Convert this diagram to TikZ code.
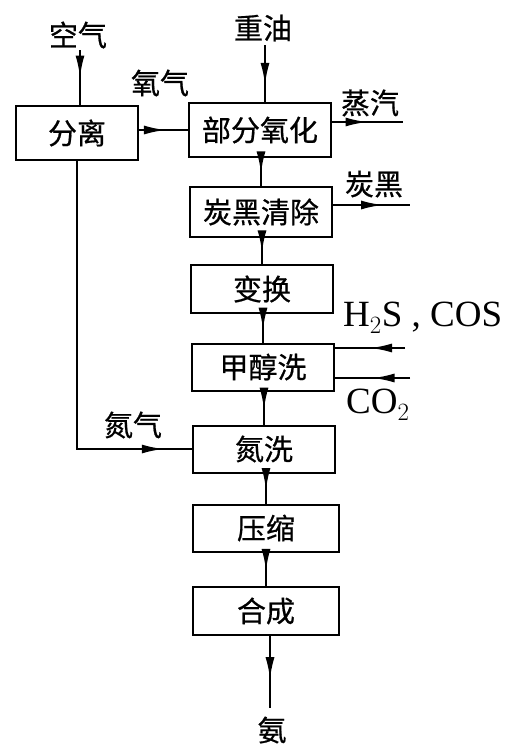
\documentclass[tikz,border=0pt]{standalone}
\usepackage{fontspec}
\setmainfont{Liberation Serif}
\newfontfamily\cjk[FakeBold=0.6]{Noto Sans CJK SC}
\usetikzlibrary{arrows.meta,decorations.markings}
\tikzset{
  x=1pt,y=-1pt,
  proc/.style={draw,line width=2pt,minimum width=142pt,minimum height=49pt,inner sep=0pt,font=\cjk\fontsize{29}{29}\selectfont},
  lbl/.style={inner sep=0pt,font=\cjk\fontsize{29}{29}\selectfont},
  latin/.style={inner sep=0pt,font=\fontsize{37}{37}\selectfont},
  flow/.style={line width=2.2pt,postaction={decorate},decoration={markings,mark=at position #1 with {\arrow{Latex[length=22pt,width=9pt]}}}},
  flow/.default=0.55
}
\begin{document}
\begin{tikzpicture}
\useasboundingbox (0,0) rectangle (514,748);
% boxes
\node[proc,minimum width=122pt,minimum height=54pt] (fl) at (77,133) {分离};
\node[proc,minimum height=54pt] (bf) at (260,130) {部分氧化};
\node[proc,minimum height=50pt] (th) at (261,212) {炭黑清除};
\node[proc,minimum height=48pt] (bh) at (262,289) {变换};
\node[proc,minimum height=47pt] (jc) at (263,367) {甲醇洗};
\node[proc,minimum height=47pt] (dx) at (264,449) {氮洗};
\node[proc,minimum height=47pt,minimum width=146pt] (ys) at (266,528) {压缩};
\node[proc,minimum height=48pt,minimum width=146pt] (hc) at (266,611) {合成};
% labels
\node[lbl] (kq) at (78,35) {空气};
\node[lbl] (zy) at (263,28) {重油};
\node[lbl] (yq) at (160,83) {氧气};
\node[lbl] (zq) at (370,103) {蒸汽};
\node[lbl] (tb) at (374,184) {炭黑};
\node[lbl] (dq) at (133,425) {氮气};
\node[lbl] (an) at (272,730) {氨};
\node[latin,anchor=west] (hs) at (343,318) {H$_2$S , COS};
\node[latin,anchor=west] (co) at (346,405) {CO$_2$};
% free ends
\coordinate (kqe) at (80,50);
\coordinate (zye) at (265,45);
\coordinate (zqe) at (403,122);
\coordinate (tbe) at (410,205);
\coordinate (hse) at (405,348);
\coordinate (coe) at (410,378);
\coordinate (ane) at (270,708);
% connectors
\draw[flow=0.5] (kqe) -- (kqe |- fl.north);
\draw[flow=0.7] (zye) -- (zye |- bf.north);
\draw[flow=0.55] (fl.east |- 0,130) -- (bf.west |- 0,130);
\draw[flow=0.5] (bf.east |- zqe) -- (zqe);
\draw[flow=0.65] (th.east |- tbe) -- (tbe);
\draw[flow=0.5] (hse) -- (jc.east |- hse);
\draw[flow=0.5] (coe) -- (jc.east |- coe);
\draw[flow=0.55] (bf.south -| th.north) -- (th.north);
\draw[flow=0.55] (th.south -| bh.north) -- (bh.north);
\draw[flow=0.55] (bh.south -| jc.north) -- (jc.north);
\draw[flow=0.55] (jc.south -| dx.north) -- (dx.north);
\draw[flow=0.55] (dx.south -| ys.north) -- (ys.north);
\draw[flow=0.55] (ys.south -| hc.north) -- (hc.north);
\draw[flow=0.6] (hc.south -| ane) -- (ane);
\draw[flow=0.93] (fl.south) |- (dx.west);
\end{tikzpicture}
\end{document}
